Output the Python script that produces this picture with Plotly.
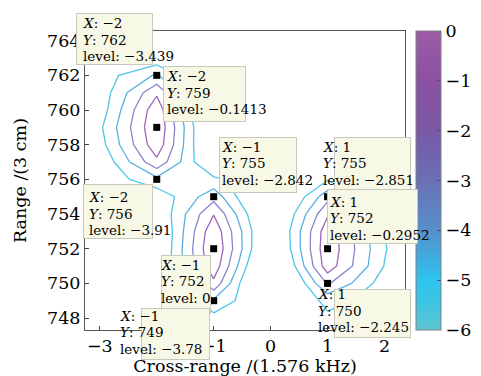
import plotly.graph_objects as go

# ---------------- data ----------------
cross_range = [-4, -3, -2, -1, 0, 1, 2, 3]
range_bins = list(range(747, 766))  # 747 .. 765

# level (dB) along each cross-range column, listed for range 747 .. 765
level_x_m4 = [-6] * 19
level_x_m3 = [-6, -6, -6, -6, -6, -6, -6, -6, -6, -5.76, -5.9, -5.3, -5.04, -5.5, -5.6, -5.47, -6, -6, -6]
level_x_m2 = [-6, -6, -7.4, -8.0, -6.2, -6.5, -6.5, -6, -5.69, -3.91, -1.5, -0.4, -0.1413, -0.35, -1.4, -3.439, -5.71, -6, -6]
level_x_m1 = [-6, -5.24, -3.78, -1.5, -0.4, 0, -0.3, -1.25, -2.842, -4.5, -6.5, -7.2, -7.3, -7.9, -7.5, -7.0, -6.5, -6.5, -6.5]
level_x_0 = [-6, -6.5, -6.5, -8.7, -8.0, -7.2, -7.0, -7.25, -7.7, -6, -7, -7, -7, -7, -7, -6.5, -6.5, -6.5, -6.5]
level_x_1 = [-6, -5.0, -4.5, -2.245, -0.5, -0.2952, -0.45, -1.35, -2.851, -4.9, -6.5, -7, -6.5, -6.5, -6.5, -6.5, -6.5, -6.5, -6.5]
level_x_2 = [-6, -6, -5.2, -5.45, -4.85, -4.7, -4.85, -5.55, -6.3, -6.5, -6.5, -6.5, -6.5, -6.5, -6.5, -6.5, -6.5, -6.5, -6.5]
level_x_3 = [-6, -6, -6.5, -6.5, -6.5, -7, -6.5, -6.5, -6.5, -6.5, -6.5, -6.5, -6.5, -6.5, -6.5, -6.5, -6.5, -6.5, -6.5]

columns = [level_x_m4, level_x_m3, level_x_m2, level_x_m1, level_x_0, level_x_1, level_x_2, level_x_3]
z_grid = [[col[i] for col in columns] for i in range(len(range_bins))]

contour_levels = [-4.8, -3.6, -2.4, -1.2]

# data tips
tip_x = [-2, -2, -2, -1, -1, -1, 1, 1, 1]
tip_y = [762, 759, 756, 755, 752, 749, 755, 752, 750]
tip_level = [z_grid[range_bins.index(yy)][cross_range.index(xx)] for xx, yy in zip(tip_x, tip_y)]

colorbar_ticks = [-6, -5, -4, -3, -2, -1, 0]

# ---------------- style ----------------
FONT = "DejaVu Serif"
cscale = [
    [0.0, "#5dc6d1"], [0.09, "#3ec4e2"], [0.17, "#2ec3ef"], [0.33, "#5690cc"],
    [0.5, "#6a70b4"], [0.67, "#7a58a6"], [0.83, "#8a50a1"], [1.0, "#9d5ca7"],
]
level_colors = ["#4cc6ea", "#58aee4", "#8a84d0", "#9d66bb"]

# box (dx, dy_top, w, h) and first-text-line (dx, dy_center) pixel offsets of each tip relative to its marker
box_off = [(-81, 62, 75, 50), (6, 61, 81, 54), (-74, -5, 68, 53), (5, 60, 76, 54), (-53, -6, 48, 57),
           (-73, -7, 67, 50), (6, 60, 75, 54), (-1, 60, 89, 53), (6, -6, 75, 47)]
txt_off = [(-75, 52), (9, 51), (-69, -18), (7, 50), (-54, -16),
           (-95, -15), (-6, 50), (1, 47), (-11, -11)]
LINE_STEP = 16.5
TIP_FONT = 13.5


def fmt(v):
    return f"{v:g}".replace("-", "\u2212")


fig = go.Figure()
for lev, col in zip(contour_levels, level_colors):
    fig.add_trace(go.Contour(
        x=cross_range, y=range_bins, z=z_grid,
        showscale=False, autocontour=False,
        contours=dict(coloring="none", start=lev, end=lev, size=1, showlabels=False),
        line=dict(width=1.3, smoothing=0, color=col),
        hoverinfo="skip",
    ))
fig.add_trace(go.Scatter(
    x=tip_x, y=tip_y, mode="markers",
    marker=dict(symbol="square", size=7, color="black", line=dict(width=0)),
    hoverinfo="skip", showlegend=False,
))
# colorbar carrier
fig.add_trace(go.Scatter(
    x=[None], y=[None], mode="markers", showlegend=False, hoverinfo="skip",
    marker=dict(color=[-6], cmin=-6, cmax=0, colorscale=cscale, showscale=True,
                colorbar=dict(x=1.035, xanchor="left", xpad=0, y=0.5, yanchor="middle",
                              len=1, ypad=0, thickness=25, outlinewidth=1, outlinecolor="#808080",
                              tickvals=colorbar_ticks, ticks="inside", ticklen=4, tickcolor="#555",
                              tickfont=dict(family=FONT, size=17.5, color="black"))),
))

annotations = []
for i, (xx, yy, lv) in enumerate(zip(tip_x, tip_y, tip_level)):
    bx, by, bw, bh = box_off[i]
    annotations.append(dict(
        x=xx, y=yy, xref="x", yref="y", showarrow=False, text=" ",
        xanchor="left", yanchor="top", xshift=bx, yshift=by, width=bw, height=bh,
        bgcolor="#f8f8e6", bordercolor="#c8c8bc", borderwidth=1, borderpad=0,
        font=dict(family=FONT, size=12),
    ))
    tx, ty = txt_off[i]
    lines = [f"<i>X</i>: {fmt(xx)}", f"<i>Y</i>: {fmt(yy)}", f"level: {fmt(lv)}"]
    for k, line in enumerate(lines):
        annotations.append(dict(
            x=xx, y=yy, xref="x", yref="y", showarrow=False, text=line,
            align="left", xanchor="left", yanchor="middle", xshift=tx, yshift=ty - k * LINE_STEP,
            borderpad=0, font=dict(family=FONT, size=TIP_FONT, color="black"),
        ))

axis_common = dict(
    showgrid=False, zeroline=False, showline=True, mirror=True, linecolor="#555", linewidth=1,
    ticks="inside", ticklen=4, tickcolor="#444",
    tickfont=dict(family=FONT, size=17.5, color="black"),
)
fig.update_layout(
    width=481, height=376,
    margin=dict(l=75, r=65, t=23, b=46),
    paper_bgcolor="white", plot_bgcolor="white",
    showlegend=False,
    xaxis=dict(range=[-3.26, 2.36], tickvals=[-3, -2, -1, 0, 1, 2],
               title=dict(text="Cross-range /(1.576 kHz)", standoff=4,
                          font=dict(family=FONT, size=17.5, color="black")),
               **axis_common),
    yaxis=dict(range=[747.31, 764.56], tickvals=list(range(748, 765, 2)),
               ticklabelstandoff=0,
               title=dict(text="Range /(3 cm)", standoff=15,
                          font=dict(family=FONT, size=17.5, color="black")),
               **axis_common),
    annotations=annotations,
)

fig.write_html("out.html")
